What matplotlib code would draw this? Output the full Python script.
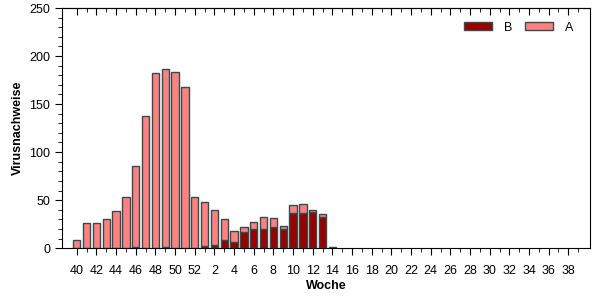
import numpy as np
import matplotlib
matplotlib.use("Agg")
import matplotlib.pyplot as plt
from matplotlib.ticker import MultipleLocator

plt.rcParams['font.family'] = ['Liberation Sans', 'DejaVu Sans']

# weeks 40..52 of one season, then 1..39 of the next
weeks = list(range(40, 53)) + list(range(1, 40))

# virus detections per week
b_vals = [0, 0, 0, 0, 0, 0, 1, 0, 0, 1, 0, 0, 0,
          2, 3, 8, 6, 17, 20, 20, 22, 20, 37, 37, 38, 32, 1] + [0] * 25
a_vals = [8, 26, 26, 30, 39, 53, 84, 138, 182, 186, 183, 168, 53,
          46, 37, 22, 12, 5, 7, 12, 9, 3, 8, 9, 2, 4, 0] + [0] * 25

color_b = '#990000'
color_a = '#FF8080'
edge = '#2F4F4F'

x = np.arange(len(weeks))
b = np.array(b_vals)
a = np.array(a_vals)

fig = plt.figure(figsize=(6.02, 3.0), dpi=100)
ax = fig.add_axes([0.103, 0.173, 0.877, 0.800])

# skip empty weeks so no zero-height outlines are drawn
mb = b > 0
ma = a > 0
ax.bar(x[mb], b[mb], width=0.75, color=color_b, edgecolor=edge, linewidth=1, label='B')
ax.bar(x[ma], a[ma], width=0.75, bottom=b[ma], color=color_a, edgecolor=edge, linewidth=1, label='A')

ax.set_xlim(-1.5, len(weeks) + 0.2)
ax.set_ylim(0, 250)

ax.set_xticks(x[::2])
ax.set_xticklabels([str(w) for w in weeks[::2]], fontsize=9)
ax.set_xticks(x[1::2], minor=True)
ax.yaxis.set_major_locator(MultipleLocator(50))
ax.yaxis.set_minor_locator(MultipleLocator(10))

ax.tick_params(axis='x', which='major', direction='out', length=5, pad=7)
ax.tick_params(axis='x', which='minor', direction='out', length=3)
ax.tick_params(axis='y', which='major', direction='out', length=5, labelsize=9)
ax.tick_params(axis='y', which='minor', direction='out', length=3)

# top axis: inward ticks, no labels
top = ax.secondary_xaxis('top')
top.set_xticks(x[::2])
top.set_xticks(x[1::2], minor=True)
top.tick_params(axis='x', which='major', direction='in', length=5, labeltop=False)
top.tick_params(axis='x', which='minor', direction='in', length=3)

ax.set_xlabel('Woche', fontsize=9, fontweight='bold', labelpad=2)
ax.set_ylabel('Virusnachweise', fontsize=9, fontweight='bold', labelpad=4)

ax.legend(loc='upper right', ncol=2, frameon=False, fontsize=9,
          handlelength=2.2, handleheight=0.6, handletextpad=1.0,
          columnspacing=1.0, bbox_to_anchor=(0.99, 0.99))

fig.savefig('out.png', dpi=100)
